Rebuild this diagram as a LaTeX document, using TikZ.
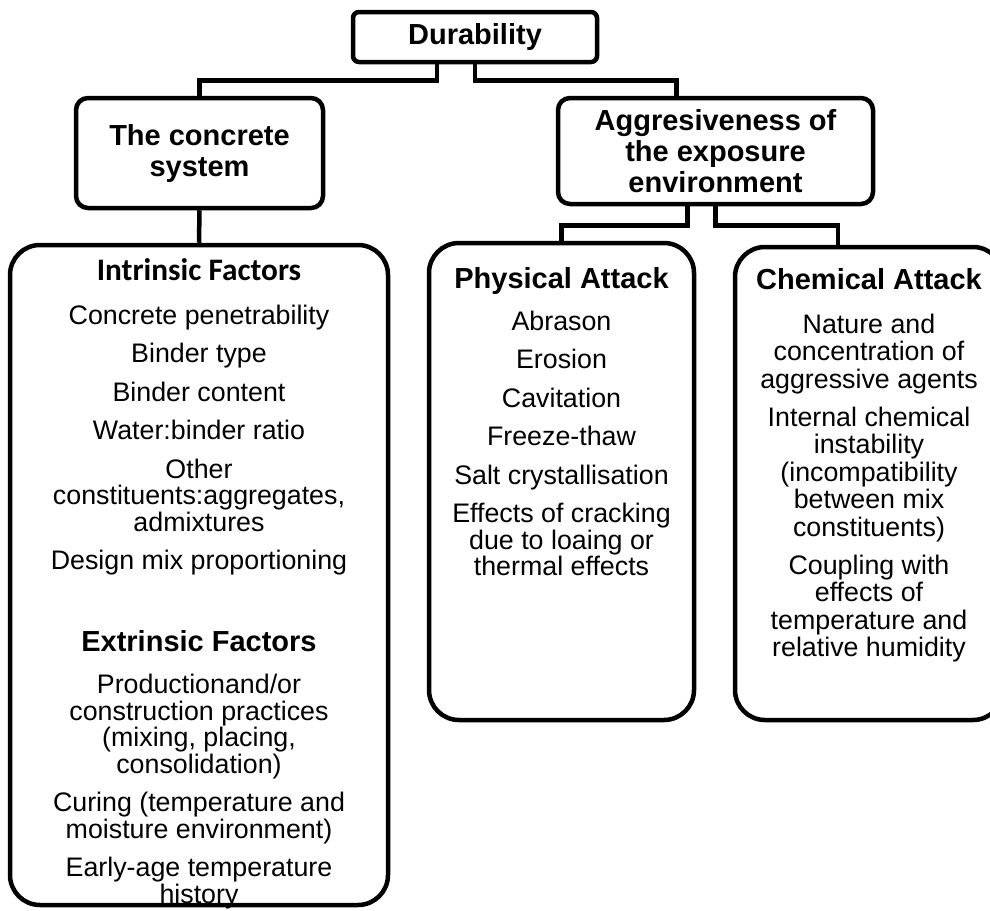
\documentclass[tikz,border=0pt]{standalone}
\usepackage{fontspec}
\setmainfont{Liberation Sans}
\newfontfamily\calibri{Carlito}

\begin{document}
\begin{tikzpicture}[x=1pt, y=-1pt,
  titlebox/.style={draw, line width=4.5pt, rounded corners=12pt, align=center, font=\bfseries\fontsize{29}{31}\selectfont},
  listbox/.style={draw, line width=4.5pt, rounded corners=30pt},
  head/.style={anchor=base, inner sep=0pt, font=\bfseries\fontsize{29}{31}\selectfont},
  items/.style={anchor=north, inner sep=0pt, align=center, font=\fontsize{26.8}{26.5}\selectfont},
  link/.style={line width=4.5pt}]
\useasboundingbox (0,0) rectangle (990,910);

\node (durability) [titlebox, rounded corners=6pt, minimum width=244pt, minimum height=50pt] at (475,37) {Durability};
\node (concrete) [titlebox, minimum width=247pt, minimum height=110pt] at (199.5,153) {The concrete\\system};
\node (exposure) [titlebox, minimum width=315pt, minimum height=106pt] at (715.5,151) {Aggresiveness of\\the exposure\\environment};

\node (factors) [listbox, minimum width=378pt, minimum height=660pt] at (199,575) {};
\node (physical) [listbox, minimum width=265pt, minimum height=477pt] at (561.5,481.5) {};
\node (chemical) [listbox, minimum width=268pt, minimum height=473pt] at (869,483.5) {};

\node (intrinsichead) [head, font=\calibri\bfseries\fontsize{31.3}{33}\selectfont] at (199,280) {Intrinsic Factors};
\node (intrinsiclist) [items] at (199,304.8) {Concrete penetrability\\[12pt]Binder type\\[12pt]Binder content\\[12pt]Water:binder ratio\\[12pt]Other\\constituents:aggregates,\\admixtures\\[12pt]Design mix proportioning};
\node (extrinsichead) [head] at (199,651.5) {Extrinsic Factors};
\node (extrinsiclist) [items] at (199,674.3) {Productionand/or\\construction practices\\(mixing, placing,\\consolidation)\\[12pt]Curing (temperature and\\moisture environment)\\[12pt]Early-age temperature\\history};

\node (physicalhead) [head] at (561.5,288.5) {Physical Attack};
\node (physicallist) [items] at (561.5,310.5) {Abrason\\[12pt]Erosion\\[12pt]Cavitation\\[12pt]Freeze-thaw\\[12pt]Salt crystallisation\\[12pt]Effects of cracking\\due to loaing or\\thermal effects};

\node (chemicalhead) [head] at (869,289.5) {Chemical Attack};
\node (chemicallist) [items, font=\fontsize{26.8}{27.5}\selectfont] at (869,313.8) {Nature and\\concentration of\\aggressive agents\\[10.5pt]Internal chemical\\instability\\(incompatibility\\between mix\\constituents)\\[10.5pt]Coupling with\\effects of\\temperature and\\relative humidity};

\draw [link] ([xshift=-38pt]durability.south) -- ++(0,16) -| (concrete.north);
\draw [link] (durability.south) -- ++(0,16) -| ([xshift=-39pt]exposure.north);
\draw [link] (concrete.south) -- (factors.north);
\draw [link] ([xshift=-28pt]exposure.south) -- ++(0,19) -| (physical.north);
\draw [link] (exposure.south) -- ++(0,19) -| ([xshift=-31pt]chemical.north);
\end{tikzpicture}
\end{document}
